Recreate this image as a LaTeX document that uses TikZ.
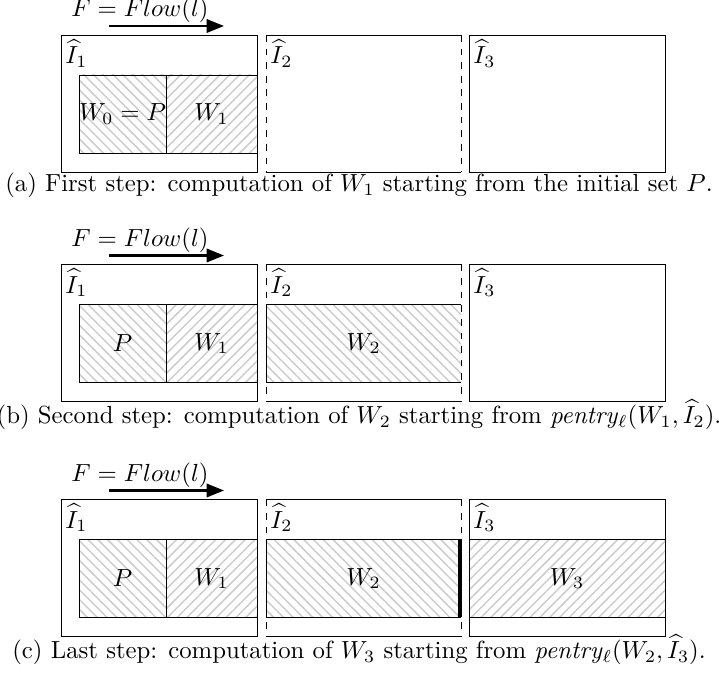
\documentclass[tikz,border=0pt]{standalone}
\usetikzlibrary{arrows.meta,patterns.meta,positioning}

\begin{document}
\begin{tikzpicture}[x=0.404pt, y=-0.404pt,
  ibox/.style={draw, line width=0.4pt},
  hatchL/.style={pattern={Lines[angle=-45,distance=2.8pt,line width=0.6pt]}, pattern color=black!20},
  hatchR/.style={pattern={Lines[angle=45,distance=2.8pt,line width=0.6pt]}, pattern color=black!20},
  dashside/.style={line width=0.4pt, dash pattern=on 2.7pt off 2.8pt},
  flowarrow/.style={-{Triangle[length=7pt,width=5.4pt]}, line width=0.9pt},
  flowlbl/.style={inner sep=0pt},
  ilbl/.style={anchor=north west, inner sep=1.6pt},
  caplbl/.style={inner sep=0pt}
]
  \useasboundingbox (0,0) rectangle (719,677);

  % (a) first step
  \begin{scope}[shift={(0,0)}]
    \node[flowlbl] (fa) at (140,10.5) {$F = Flow(l)$};
    \coordinate (fa0) at (109,26);
    \coordinate (fa1) at (224,26);
    \draw[flowarrow] (fa0) -- (fa1);
    \draw[hatchL] (79,75) rectangle (166,153);
    \draw[hatchR] (166,75) rectangle (257,153);
    \draw[ibox] (61,35) rectangle (257,172);
    \draw[ibox] (266,35) -- (461,35) (266,172) -- (461,172);
    \draw[dashside] (266,35) -- (266,172) (461,35) -- (461,172);
    \draw[ibox] (469,35) rectangle (665,172);
    \node[ilbl] (ia1) at (61,35) {$\widehat{I}_1$};
    \node[ilbl] (ia2) at (266,35) {$\widehat{I}_2$};
    \node[ilbl] (ia3) at (469,35) {$\widehat{I}_3$};
    \node (wa0) at (122.5,114) {$W_0 = P$};
    \node (wa1) at (211.5,114) {$W_1$};
    \node[caplbl] (capa) at (359,185.5)
      {(a) First step: computation of $W_1$ starting from the initial set $P$.};
  \end{scope}

  % (b) second step
  \begin{scope}[shift={(0,229.5)}]
    \node[flowlbl] (fb) at (140,10.5) {$F = Flow(l)$};
    \coordinate (fb0) at (109,26);
    \coordinate (fb1) at (224,26);
    \draw[flowarrow] (fb0) -- (fb1);
    \draw[hatchL] (79,75) rectangle (166,153);
    \draw[hatchR] (166,75) rectangle (257,153);
    \draw[ibox] (61,35) rectangle (257,172);
    \fill[hatchL] (266,75) rectangle (461,153);
    \draw[ibox] (461,75) -- (266,75) -- (266,153) -- (461,153);
    \draw[ibox] (266,35) -- (461,35) (266,172) -- (461,172);
    \draw[dashside] (266,35) -- (266,172) (461,35) -- (461,172);
    \draw[ibox] (469,35) rectangle (665,172);
    \node[ilbl] (ib1) at (61,35) {$\widehat{I}_1$};
    \node[ilbl] (ib2) at (266,35) {$\widehat{I}_2$};
    \node[ilbl] (ib3) at (469,35) {$\widehat{I}_3$};
    \node (wb0) at (122.5,114) {$P$};
    \node (wb1) at (211.5,114) {$W_1$};
    \node (wb2) at (363.5,114) {$W_2$};
    \node[caplbl] (capb) at (359,185.5)
      {(b) Second step: computation of $W_2$ starting from \textit{pentry}$_\ell(W_1,\widehat{I}_2)$.};
  \end{scope}

  % (c) last step
  \begin{scope}[shift={(0,464.5)}]
    \node[flowlbl] (fc) at (140,10.5) {$F = Flow(l)$};
    \coordinate (fc0) at (109,26);
    \coordinate (fc1) at (224,26);
    \draw[flowarrow] (fc0) -- (fc1);
    \draw[hatchL] (79,75) rectangle (166,153);
    \draw[hatchR] (166,75) rectangle (257,153);
    \draw[ibox] (61,35) rectangle (257,172);
    \fill[hatchL] (266,75) rectangle (461,153);
    \draw[ibox] (461,75) -- (266,75) -- (266,153) -- (461,153);
    \draw[ibox] (266,35) -- (461,35) (266,172) -- (461,172);
    \draw[dashside] (266,35) -- (266,172) (461,35) -- (461,172);
    \draw[line width=1.7pt] (460,75) -- (460,153);
    \draw[hatchR] (469,75) rectangle (665,153);
    \draw[ibox] (469,35) rectangle (665,172);
    \node[ilbl] (ic1) at (61,35) {$\widehat{I}_1$};
    \node[ilbl] (ic2) at (266,35) {$\widehat{I}_2$};
    \node[ilbl] (ic3) at (469,35) {$\widehat{I}_3$};
    \node (wc0) at (122.5,114) {$P$};
    \node (wc1) at (211.5,114) {$W_1$};
    \node (wc2) at (363.5,114) {$W_2$};
    \node (wc3) at (567,114) {$W_3$};
    \node[caplbl] (capc) at (359,185.5)
      {(c) Last step: computation of $W_3$ starting from \textit{pentry}$_\ell(W_2,\widehat{I}_3)$.};
  \end{scope}
\end{tikzpicture}
\end{document}
